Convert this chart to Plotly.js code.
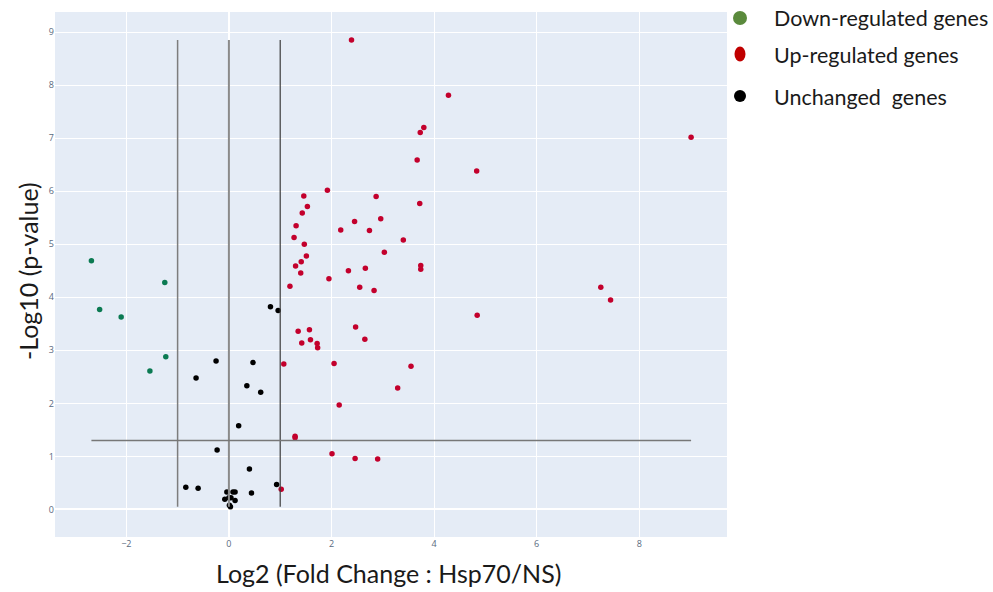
<!DOCTYPE html>
<html>
<head>
<meta charset="utf-8">
<script src="https://cdn.plot.ly/plotly-3.0.1.min.js"></script>
<style>html,body{margin:0;padding:0;background:#fff;}#chart{width:993px;height:592px;}</style>
</head>
<body>
<div id="chart"></div>
<script>
// Down-regulated genes
const downX = [-2.68, -2.52, -2.10, -1.25, -1.23, -1.54];
const downY = [4.69, 3.77, 3.63, 4.28, 2.88, 2.61];

// Up-regulated genes
const upX = [2.39, 4.28, 3.80, 3.73, 9.01, 3.67, 4.83, 1.92, 1.46, 2.87,
             3.72, 1.53, 1.43, 2.96, 2.45, 1.31, 2.18, 2.74, 1.27, 3.40,
             1.47, 3.03, 1.51, 1.41, 3.74, 1.30, 2.66, 3.74, 2.33, 1.40,
             1.95, 1.19, 7.25, 2.55, 2.83, 7.44, 4.84, 2.47, 1.57, 1.35,
             2.65, 1.59, 1.42, 1.72, 1.73, 2.05, 1.07, 3.55, 3.29, 2.15,
             1.29, 1.29, 2.01, 2.46, 2.90, 1.02];
const upY = [8.85, 7.81, 7.20, 7.11, 7.02, 6.59, 6.38, 6.02, 5.91, 5.90,
             5.77, 5.71, 5.59, 5.48, 5.43, 5.35, 5.27, 5.26, 5.13, 5.08,
             5.00, 4.85, 4.78, 4.67, 4.60, 4.59, 4.55, 4.53, 4.50, 4.46,
             4.35, 4.21, 4.19, 4.19, 4.13, 3.95, 3.66, 3.44, 3.39, 3.36,
             3.21, 3.20, 3.14, 3.13, 3.05, 2.75, 2.74, 2.70, 2.29, 1.97,
             1.38, 1.35, 1.05, 0.96, 0.95, 0.38];

// Unchanged genes
const unX = [0.81, 0.96, -0.25, 0.47, -0.64, 0.35, 0.62, 0.19, -0.23, 0.40,
             0.93, -0.84, -0.60, -0.04, 0.08, 0.12, 0.44, -0.08, 0.00, 0.04,
             0.12, 0.01, 0.03];
const unY = [3.82, 3.75, 2.80, 2.77, 2.48, 2.33, 2.21, 1.58, 1.12, 0.76,
             0.47, 0.42, 0.40, 0.33, 0.33, 0.33, 0.31, 0.19, 0.22, 0.22,
             0.17, 0.08, 0.05];

// Thresholds
const fcThresholds = [-1, 0, 1];
const pThreshold = 1.30103;

// Legend labels
const legendLabels = ["Down-regulated genes", "Up-regulated genes", "Unchanged  genes"];

const allX = downX.concat(upX, unX);
const allY = downY.concat(upY, unY);
const xMin = Math.min(...allX), xMax = Math.max(...allX);
const yMin = Math.min(...allY), yMax = Math.max(...allY);

const traces = [
  {x: downX, y: downY, type: 'scatter', mode: 'markers', name: legendLabels[0],
   marker: {color: '#0b7a52', size: 5.5}},
  {x: upX, y: upY, type: 'scatter', mode: 'markers', name: legendLabels[1],
   marker: {color: '#c3002c', size: 5.5}},
  {x: unX, y: unY, type: 'scatter', mode: 'markers', name: legendLabels[2],
   marker: {color: '#000000', size: 5.5}}
];

const vColors = ['#7d7d7d', '#8a8a8a', '#3c3c3c'];
const vWidths = [1.5, 2, 1.2];
const shapes = fcThresholds.map((v, i) => ({
  type: 'line', xref: 'x', yref: 'y', x0: v, x1: v, y0: yMin, y1: yMax,
  line: {color: vColors[i], width: vWidths[i]}
}));
shapes.push({
  type: 'line', xref: 'x', yref: 'y', x0: xMin, x1: xMax, y0: pThreshold, y1: pThreshold,
  line: {color: '#777777', width: 1.5}
});

// Legend markers (custom, drawn in paper coordinates)
const legendMarkerColors = ['#5a8a3c', '#c00000', '#000000'];
const legendMarkerW = [14, 11, 12];
const legendMarkerH = [14, 15, 12];
const plotL = 55, plotR = 727, plotT = 12, plotB = 537;
const pw = plotR - plotL, ph = plotB - plotT;
const legendPy = [18, 54, 96];
const legendTextPy = [18, 55, 97];
legendMarkerColors.forEach((c, i) => {
  const xa = (740 - plotL) / pw;
  const ya = (plotB - legendPy[i]) / ph;
  shapes.push({
    type: 'circle', xref: 'paper', yref: 'paper',
    xsizemode: 'pixel', ysizemode: 'pixel', xanchor: xa, yanchor: ya,
    x0: -legendMarkerW[i] / 2, x1: legendMarkerW[i] / 2,
    y0: -legendMarkerH[i] / 2, y1: legendMarkerH[i] / 2,
    fillcolor: c, line: {width: 0}
  });
});

const annFont = {family: 'Lato, "Noto Sans", sans-serif', size: 21.5, color: '#1a1a1a'};
const annotations = legendLabels.map((t, i) => ({
  text: t, xref: 'paper', yref: 'paper',
  x: (772 - plotL) / pw, y: (plotB - legendTextPy[i]) / ph,
  xanchor: 'left', yanchor: 'middle', showarrow: false, font: annFont
}));
annotations.push({
  text: 'Log2 (Fold Change : Hsp70/NS)', xref: 'paper', yref: 'paper',
  x: (388 - plotL) / pw, y: (plotB - 573) / ph, xanchor: 'center', yanchor: 'middle',
  showarrow: false, font: {family: 'Lato, "Noto Sans", sans-serif', size: 25, color: '#1a1a1a'}
});
annotations.push({
  text: '-Log10 (p-value)', xref: 'paper', yref: 'paper',
  x: (28 - plotL) / pw, y: (plotB - 271) / ph, xanchor: 'center', yanchor: 'middle',
  textangle: -90, showarrow: false,
  font: {family: 'Lato, "Noto Sans", sans-serif', size: 25, color: '#1a1a1a'}
});

const layout = {
  width: 993, height: 592,
  margin: {l: plotL, r: 993 - plotR, t: plotT, b: 592 - plotB, pad: 0},
  paper_bgcolor: '#ffffff', plot_bgcolor: '#E5ECF6',
  showlegend: false,
  font: {family: '"Open Sans", sans-serif', size: 9, color: '#5a6a80'},
  xaxis: {range: [-3.39, 9.71], dtick: 2, tick0: 0, gridcolor: '#ffffff', gridwidth: 1,
          zeroline: true, zerolinecolor: '#ffffff', zerolinewidth: 2,
          showline: false, ticks: '', tickfont: {size: 9}, fixedrange: true},
  yaxis: {range: [-0.52, 9.38], dtick: 1, tick0: 0, gridcolor: '#ffffff', gridwidth: 1,
          zeroline: true, zerolinecolor: '#ffffff', zerolinewidth: 2,
          showline: false, ticks: '', tickfont: {size: 9}, fixedrange: true},
  shapes: shapes,
  annotations: annotations
};

Plotly.newPlot('chart', traces, layout, {displayModeBar: false, staticPlot: true});
</script>
</body>
</html>
